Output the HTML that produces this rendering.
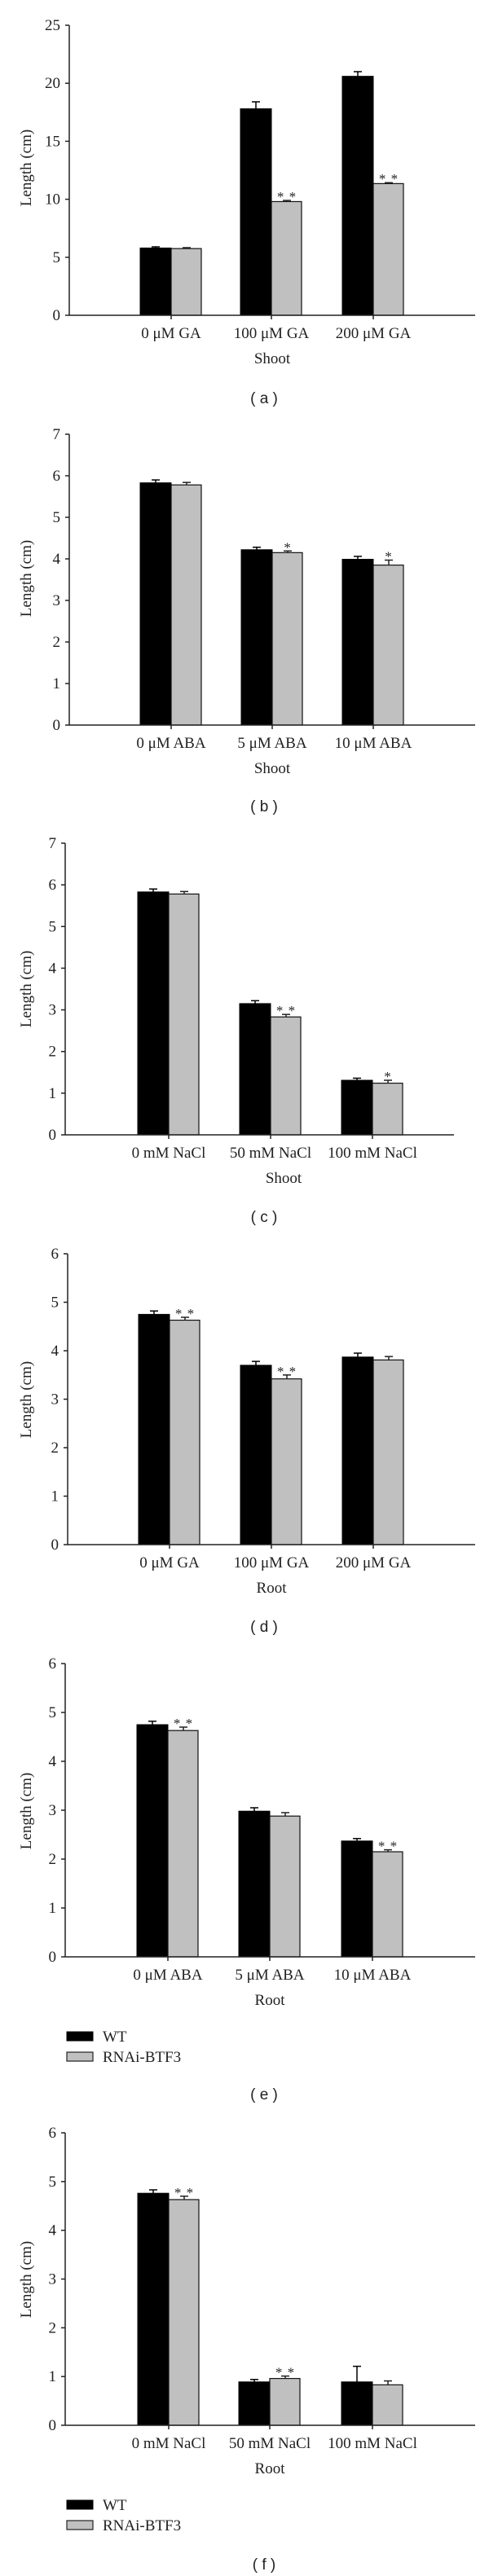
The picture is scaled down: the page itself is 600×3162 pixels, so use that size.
<!DOCTYPE html>
<html><head><meta charset="utf-8">
<style>
html,body{margin:0;padding:0;background:#fff;}
svg{display:block;}
.t{font-family:"Liberation Serif",serif;font-size:19px;fill:#222;}
.cap{font-family:"Liberation Sans",sans-serif;font-size:19px;fill:#222;}
</style></head>
<body>
<svg id="fig" width="600" height="3162" viewBox="0 0 600 3162" xmlns="http://www.w3.org/2000/svg"></svg>
<script>
// ---- data ----
const catsA = ["0 \u03bcM GA","100 \u03bcM GA","200 \u03bcM GA"];
const wtA = [5.8, 17.8, 20.6];
const wtErrA = [0.1, 0.6, 0.4];
const rnA = [5.75, 9.8, 11.35];
const rnErrA = [0.08, 0.1, 0.08];
const starsA = ["", "**", "**"];
const ticksA = [0,5,10,15,20,25];

const catsB = ["0 \u03bcM ABA","5 \u03bcM ABA","10 \u03bcM ABA"];
const wtB = [5.83, 4.22, 3.99];
const wtErrB = [0.07, 0.06, 0.07];
const rnB = [5.78, 4.15, 3.85];
const rnErrB = [0.06, 0.04, 0.12];
const starsB = ["", "*", "*"];
const ticksB = [0,1,2,3,4,5,6,7];

const catsC = ["0 mM NaCl","50 mM NaCl","100 mM NaCl"];
const wtC = [5.83, 3.15, 1.31];
const wtErrC = [0.07, 0.07, 0.05];
const rnC = [5.78, 2.83, 1.24];
const rnErrC = [0.06, 0.06, 0.07];
const starsC = ["", "**", "*"];
const ticksC = [0,1,2,3,4,5,6,7];

const catsD = ["0 \u03bcM GA","100 \u03bcM GA","200 \u03bcM GA"];
const wtD = [4.75, 3.7, 3.87];
const wtErrD = [0.07, 0.08, 0.08];
const rnD = [4.63, 3.42, 3.81];
const rnErrD = [0.06, 0.08, 0.07];
const starsD = ["**", "**", ""];
const ticksD = [0,1,2,3,4,5,6];

const catsE = ["0 \u03bcM ABA","5 \u03bcM ABA","10 \u03bcM ABA"];
const wtE = [4.75, 2.98, 2.37];
const wtErrE = [0.07, 0.07, 0.05];
const rnE = [4.63, 2.88, 2.15];
const rnErrE = [0.07, 0.07, 0.04];
const starsE = ["**", "", "**"];
const ticksE = [0,1,2,3,4,5,6];

const catsF = ["0 mM NaCl","50 mM NaCl","100 mM NaCl"];
const wtF = [4.76, 0.89, 0.89];
const wtErrF = [0.07, 0.05, 0.32];
const rnF = [4.63, 0.96, 0.83];
const rnErrF = [0.07, 0.05, 0.08];
const starsF = ["**", "**", ""];
const ticksF = [0,1,2,3,4,5,6];

// ---- layout ----
const panels = [
 {id:"a", cats:catsA, wt:wtA, we:wtErrA, rn:rnA, re:rnErrA, st:starsA, ticks:ticksA, top:31, zero:387, ax:85, end:583, centers:[210,333,458], title:"Shoot", titleX:334, cap:488, ylc:206, legend:false},
 {id:"b", cats:catsB, wt:wtB, we:wtErrB, rn:rnB, re:rnErrB, st:starsB, ticks:ticksB, top:533, zero:890, ax:85, end:583, centers:[210,334,458], title:"Shoot", titleX:334, cap:989, ylc:710, legend:false},
 {id:"c", cats:catsC, wt:wtC, we:wtErrC, rn:rnC, re:rnErrC, st:starsC, ticks:ticksC, top:1035, zero:1393, ax:80, end:557, centers:[207,332,457], title:"Shoot", titleX:348, cap:1493, ylc:1214, legend:false},
 {id:"d", cats:catsD, wt:wtD, we:wtErrD, rn:rnD, re:rnErrD, st:starsD, ticks:ticksD, top:1539, zero:1896, ax:83, end:583, centers:[208,333,458], title:"Root", titleX:333, cap:1996, ylc:1718, legend:false},
 {id:"e", cats:catsE, wt:wtE, we:wtErrE, rn:rnE, re:rnErrE, st:starsE, ticks:ticksE, top:2042, zero:2402, ax:80, end:583, centers:[206,331,457], title:"Root", titleX:331, cap:2570, ylc:2223, legend:true},
 {id:"f", cats:catsF, wt:wtF, we:wtErrF, rn:rnF, re:rnErrF, st:starsF, ticks:ticksF, top:2618, zero:2977, ax:80, end:583, centers:[207,331,457], title:"Root", titleX:331, cap:3147, ylc:2798, legend:true}
];

const NS = "http://www.w3.org/2000/svg";
const svg = document.getElementById("fig");
function mk(tag, attrs, parent){
  const e = document.createElementNS(NS, tag);
  for (const k in attrs) e.setAttribute(k, attrs[k]);
  (parent||svg).appendChild(e);
  return e;
}

panels.forEach(p => {
  const g = mk("g", {});
  
  
  const maxT = p.ticks[p.ticks.length-1];
  const y = v => p.zero - (v / maxT) * (p.zero - p.top);
  const bw = 38;

  const yax = mk("line", {x1:p.ax, y1:p.top, x2:p.ax, y2:p.zero, stroke:"#222", "stroke-width":1.5}, g);
  
  
  p.ticks.forEach(t => {
    mk("line", {x1:p.ax-5, y1:y(t), x2:p.ax, y2:y(t), stroke:"#222", "stroke-width":1.5}, g);
    const tl = mk("text", {x:p.ax-11, y:y(t)+6, "text-anchor":"end", class:"t"}, g);
    tl.textContent = t;
    
    
  });
  const yl = mk("text", {x:0, y:0, "text-anchor":"middle", class:"t", transform:`translate(38,${p.ylc}) rotate(-90)`}, g);
  yl.textContent = "Length (cm)";
  
  

  p.cats.forEach((c, i) => {
    const cx = p.centers[i];
    const bwt = mk("rect", {x:cx-bw, y:y(p.wt[i]), width:bw, height:p.zero-y(p.wt[i]), fill:"#000", stroke:"#000", "stroke-width":1}, g);
    
    
    const brn = mk("rect", {x:cx, y:y(p.rn[i]), width:bw-1, height:p.zero-y(p.rn[i]), fill:"#c0c0c0", stroke:"#111", "stroke-width":1.2}, g);
    
    
    const ex1 = cx - bw/2, ex2 = cx + bw/2;
    const e1 = y(p.wt[i] + p.we[i]), e2 = y(p.rn[i] + p.re[i]);
    mk("line", {x1:ex1, y1:y(p.wt[i]), x2:ex1, y2:e1, stroke:"#000", "stroke-width":1.5}, g);
    mk("line", {x1:ex1-5, y1:e1, x2:ex1+5, y2:e1, stroke:"#000", "stroke-width":1.5}, g);
    mk("line", {x1:ex2, y1:y(p.rn[i]), x2:ex2, y2:e2, stroke:"#222", "stroke-width":1.5}, g);
    mk("line", {x1:ex2-5, y1:e2, x2:ex2+5, y2:e2, stroke:"#222", "stroke-width":1.5}, g);
    if (p.st[i]) {
      const s = mk("text", {x:ex2, y:e2+1, "text-anchor":"middle", class:"t", style:"font-size:17px;letter-spacing:1px"}, g);
      s.textContent = p.st[i].split("").join(" ");
      
      
    }
    mk("line", {x1:cx, y1:p.zero, x2:cx, y2:p.zero+5, stroke:"#222", "stroke-width":1.5}, g);
    const xl = mk("text", {x:cx, y:p.zero+28, "text-anchor":"middle", class:"t"}, g);
    xl.textContent = c;
    
    
  });
  const xax = mk("line", {x1:p.ax, y1:p.zero, x2:p.end, y2:p.zero, stroke:"#222", "stroke-width":1.5}, g);
  
  
  const xt = mk("text", {x:p.titleX, y:p.zero+59, "text-anchor":"middle", class:"t"}, g);
  xt.textContent = p.title;
  
  

  if (p.legend) {
    const ly = p.zero + 92;
    const lg = mk("g", {}, g);
    
    
    const r1 = mk("rect", {x:82, y:ly, width:32, height:11, fill:"#000", stroke:"#000"}, lg);
    
    
    const t1 = mk("text", {x:126, y:ly+12, class:"t"}, lg);
    t1.textContent = "WT";
    
    
    const r2 = mk("rect", {x:82, y:ly+25, width:32, height:11, fill:"#c0c0c0", stroke:"#222", "stroke-width":1.2}, lg);
    
    
    const t2 = mk("text", {x:126, y:ly+37, class:"t"}, lg);
    t2.textContent = "RNAi-BTF3";
    
    
  }
  const cp = mk("text", {x:324, y:p.cap+7, "text-anchor":"middle", class:"cap"}, g);
  cp.textContent = "( " + p.id + " )";
  
  
});
</script>
</body></html>
